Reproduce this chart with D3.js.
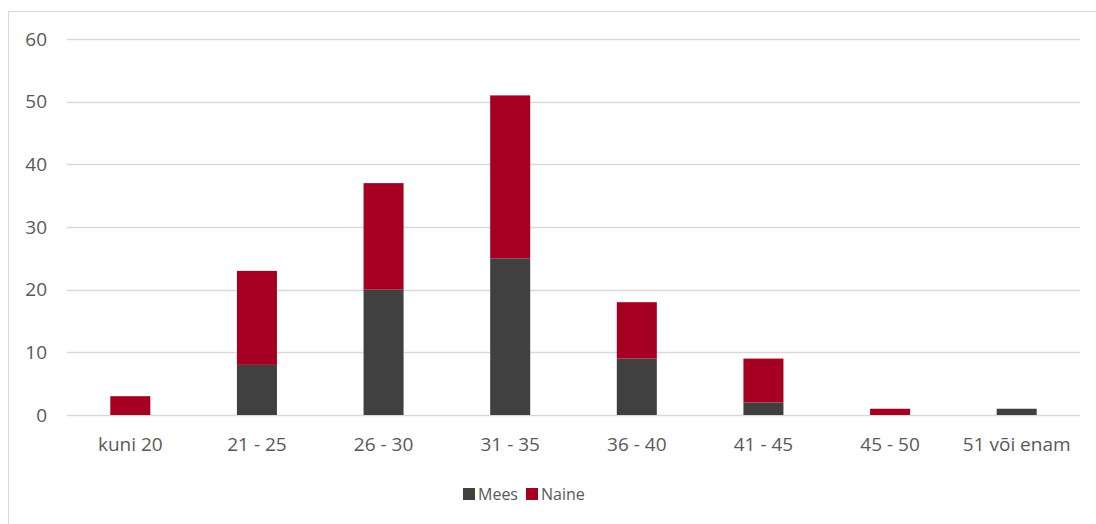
<!DOCTYPE html>
<html>
<head>
<meta charset="utf-8">
<script src="https://cdn.jsdelivr.net/npm/d3@7"></script>
<style>
  body { margin: 0; background: #fff; }
  #chart text { font-family: "Open Sans", "Noto Sans", sans-serif; fill: #595959; }
</style>
</head>
<body>
<div id="chart"></div>
<script>
// age groups
var categories = ["kuni 20", "21 - 25", "26 - 30", "31 - 35", "36 - 40", "41 - 45", "45 - 50", "51 või enam"];
var meesValues = [0, 8, 20, 25, 9, 2, 0, 1];
var naineValues = [3, 15, 17, 26, 9, 7, 1, 0];
var seriesNames = ["Mees", "Naine"];
var yTicks = [0, 10, 20, 30, 40, 50, 60];

var colors = { "Mees": "#404040", "Naine": "#a50021" };

var width = 1096, height = 524;
var margin = { top: 39, right: 16, bottom: 109, left: 67 };
var innerW = width - margin.left - margin.right,
    innerH = height - margin.top - margin.bottom;

var svg = d3.select("#chart").append("svg")
    .attr("width", width)
    .attr("height", height);

// chart frame
svg.append("rect")
    .attr("x", 8.5).attr("y", 11.5)
    .attr("width", 1100).attr("height", 530)
    .attr("fill", "none")
    .attr("stroke", "#d9d9d9");

var g = svg.append("g")
    .attr("transform", "translate(" + margin.left + "," + margin.top + ")");

var rows = categories.map(function (c, i) {
    return { cat: c, Mees: meesValues[i], Naine: naineValues[i] };
});

var stacked = d3.stack().keys(seriesNames)(rows);

var x = d3.scaleBand()
    .domain(categories)
    .range([0, innerW])
    .paddingInner(0.684)
    .paddingOuter(0.342);

var y = d3.scaleLinear()
    .domain([0, 60])
    .range([innerH, 0]);

// gridlines
g.append("g")
    .selectAll("line")
    .data(yTicks)
    .enter()
    .append("line")
    .attr("x1", 0)
    .attr("x2", innerW)
    .attr("y1", function (d) { return Math.round(y(d)) + 0.5; })
    .attr("y2", function (d) { return Math.round(y(d)) + 0.5; })
    .attr("stroke", "#d9d9d9")
    .attr("stroke-width", 1.3);

// y axis labels
var yAxis = d3.axisLeft(y)
    .tickValues(yTicks)
    .tickSize(0)
    .tickPadding(20);

var gy = g.append("g").call(yAxis);
gy.select(".domain").remove();
gy.selectAll("text").attr("font-size", "19px");

// bars
var layers = g.selectAll(".layer")
    .data(stacked)
    .enter()
    .append("g")
    .attr("fill", function (d) { return colors[d.key]; });

layers.selectAll("rect")
    .data(function (d) { return d; })
    .enter()
    .append("rect")
    .attr("x", function (d) { return x(d.data.cat); })
    .attr("width", x.bandwidth())
    .attr("y", function (d) { return y(d[1]); })
    .attr("height", function (d) { return y(d[0]) - y(d[1]); });

// x axis labels
var xAxis = d3.axisBottom(x)
    .tickSize(0)
    .tickPadding(23);

var gx = g.append("g")
    .attr("transform", "translate(0," + innerH + ")")
    .call(xAxis);
gx.select(".domain").remove();
gx.selectAll("text").attr("font-size", "19px");

// legend
var legend = svg.append("g")
    .attr("transform", "translate(463,494)");

var legendX = [0, 63];
var items = legend.selectAll(".item")
    .data(seriesNames)
    .enter()
    .append("g")
    .attr("transform", function (d, i) { return "translate(" + legendX[i] + ",0)"; });

items.append("rect")
    .attr("x", 0).attr("y", -6)
    .attr("width", 12).attr("height", 12)
    .attr("fill", function (d) { return colors[d]; });

items.append("text")
    .attr("x", 15)
    .attr("y", 0)
    .attr("dy", "0.35em")
    .attr("font-size", "16px")
    .text(function (d) { return d; });
</script>
</body>
</html>
